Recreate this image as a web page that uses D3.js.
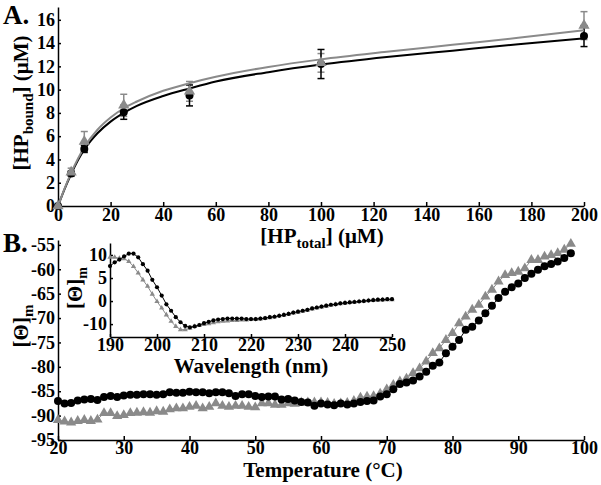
<!DOCTYPE html>
<html lang="en">
  <head>
    <meta charset="UTF-8" />
    <title>HP binding / thermal melt</title>
    <script src="https://d3js.org/d3.v7.min.js"></script>
    <style>
      body {
        margin: 0;
        background: #fff;
      }
      svg {
        display: block;
        font-family: "Liberation Serif", "Times New Roman", serif;
        font-weight: bold;
      }
      .axis text {
        font-family: "Liberation Serif", "Times New Roman", serif;
        font-weight: bold;
        font-size: 18px;
        fill: #000;
      }
      .axis path,
      .axis line {
        stroke: #000;
        stroke-width: 1.5px;
      }
      .title {
        font-size: 21px;
        fill: #000;
      }
      .panel {
        font-size: 27px;
        fill: #000;
      }
    </style>
  </head>
  <body>
    <svg id="chart" width="601" height="485"></svg>

    <script>
      // ---------------------------------------------------------------
      // DATA
      // ---------------------------------------------------------------

      // A) binding: [HP total] vs [HP bound], two samples with error bars
      const hpTotal = [0, 5, 10, 25, 50, 100, 200];
      const boundBlack = [0, 2.8, 4.9, 8.05, 9.5, 12.2, 14.6];
      const errBlack = [0, 0.2, 0.3, 0.6, 0.9, 1.25, 0.9];
      const boundGrey = [0, 2.9, 5.55, 8.65, 9.85, 12.3, 15.5];
      const errGrey = [0, 0.35, 0.85, 0.95, 0.85, 0.8, 1.2];

      // fitted curves
      const fitX = [0, 2.5, 5, 10, 15, 20, 25, 30, 40, 50, 60, 80, 100, 125, 150, 175, 200];
      const fitBlack = [0, 1.45, 2.75, 4.85, 6.25, 7.25, 8.0, 8.6, 9.45, 10.1, 10.7, 11.5, 12.15, 12.8, 13.35, 13.9, 14.4];
      const fitGrey = [0, 1.5, 2.85, 5.05, 6.55, 7.6, 8.4, 8.98, 9.9, 10.55, 11.1, 11.95, 12.6, 13.25, 13.85, 14.45, 15.1];

      const ticksAX = [0, 20, 40, 60, 80, 100, 120, 140, 160, 180, 200];
      const ticksAY = [0, 2, 4, 6, 8, 10, 12, 14, 16];

      // B) thermal melt, one reading per degree from 20 to 98 °C
      const temperature = d3.range(20, 99);
      const thetaBlack = [
        -87.0, -87.5, -87.4, -86.9, -86.7, -86.6, -86.8, -86.2, -86.0, -86.2,
        -85.9, -85.7, -85.7, -85.6, -85.6, -85.7, -85.6, -85.2, -85.3, -85.3,
        -85.1, -85.2, -85.2, -85.4, -85.2, -85.2, -85.4, -86.0, -85.6, -85.6,
        -86.0, -86.2, -86.1, -86.1, -86.7, -86.6, -86.9, -87.2, -87.3, -88.0,
        -87.5, -87.7, -87.9, -87.5, -87.7, -87.5, -87.2, -87.0, -86.9, -86.1,
        -85.6, -84.6, -83.5, -83.2, -82.8, -82.0, -81.0, -79.8, -79.1, -77.2,
        -75.9, -74.5, -72.4, -71.8, -70.5, -69.0, -67.5, -65.9, -64.6, -63.7,
        -62.9, -61.8, -60.9, -60.1, -59.4, -58.9, -58.4, -57.7, -56.7
      ];
      const thetaGrey = [
        -90.9, -91.2, -91.4, -91.1, -90.9, -91.1, -90.8, -89.5, -89.5, -90.1,
        -89.9, -89.5, -89.4, -89.3, -89.4, -89.1, -89.2, -88.7, -88.5, -88.5,
        -88.2, -88.0, -88.5, -88.2, -87.5, -88.0, -88.2, -88.0, -88.0, -88.2,
        -88.3, -87.5, -87.5, -87.8, -87.8, -87.5, -87.6, -87.3, -87.3, -87.3,
        -87.3, -87.4, -87.6, -87.5, -87.4, -87.0, -86.3, -86.1, -86.0, -85.5,
        -84.6, -83.7, -83.0, -82.4, -81.3, -80.3, -78.9, -77.2, -76.2, -74.5,
        -73.1, -71.1, -69.7, -68.3, -67.3, -65.6, -64.2, -62.5, -61.2, -60.8,
        -60.5, -59.8, -58.1, -58.1, -57.4, -57.1, -56.7, -56.0, -54.8
      ];
      const ticksBX = [20, 30, 40, 50, 60, 70, 80, 90, 100];
      const ticksBY = [-55, -60, -65, -70, -75, -80, -85, -90, -95];

      // B inset) CD spectrum, one reading per nm from 190 to 250 nm
      const wavelength = d3.range(190, 251);
      const cdBlack = [
        7.6, 8.4, 9.0, 9.7, 10.3, 10.3, 9.5, 8.0, 6.6, 4.6,
        3.0, 1.2, -0.7, -2.1, -3.5, -4.6, -5.4, -5.7, -5.5, -5.2,
        -4.8, -4.5, -4.2, -4.0, -3.9, -3.8, -3.8, -3.8, -3.8, -3.9,
        -3.9, -3.9, -3.8, -3.7, -3.5, -3.4, -3.2, -3.0, -2.8, -2.5,
        -2.3, -2.1, -1.9, -1.6, -1.4, -1.2, -1.0, -0.8, -0.7, -0.5,
        -0.4, -0.3, -0.2, -0.1, 0.0, 0.1, 0.2, 0.3, 0.3, 0.4, 0.4
      ];
      const cdGrey = [
        9.5, 9.5, 9.3, 9.2, 8.6, 7.5, 6.1, 4.6, 3.2, 1.5,
        -0.1, -1.5, -3.0, -4.4, -5.5, -6.2, -6.2, -5.9, -5.5, -5.3,
        -5.1, -4.9, -4.7, -4.5, -4.4, -4.3, -4.2, -4.2, -4.1, -4.1,
        -4.0, -4.0, -3.9, -3.8, -3.6, -3.4, -3.2, -3.0, -2.8, -2.6,
        -2.4, -2.2, -2.0, -1.7, -1.5, -1.3, -1.1, -0.9, -0.7, -0.6,
        -0.4, -0.3, -0.2, -0.1, 0.0, 0.1, 0.2, 0.2, 0.3, 0.3, 0.3
      ];
      const ticksInX = [190, 200, 210, 220, 230, 240, 250];
      const ticksInY = [10, 5, 0, -5];
      const ticksInYLabels = ["10", "5", "0", "-10"];

      const grey = "#8a8a8a";
      const svg = d3.select("#chart");

      // text with subscripts: parts = [[text, isSub], ...]
      function richText(sel, parts, subSize) {
        let down = false;
        parts.forEach(([t, sub]) => {
          const ts = sel.append("tspan").text(t);
          if (sub && !down) {
            ts.attr("dy", 5).attr("font-size", subSize);
            down = true;
          } else if (!sub && down) {
            ts.attr("dy", -5);
            down = false;
          } else if (sub) {
            ts.attr("font-size", subSize);
          }
        });
        return sel;
      }

      // plain hyphen for negative tick labels, as in the figure
      const plain = (d) => String(d);

      function errorBars(g, xs, ys, es, x, y, color) {
        const d = xs.map((v, i) => ({ x: v, y: ys[i], e: es[i] })).filter((d) => d.e > 0);
        const bars = g.append("g").attr("stroke", color).attr("stroke-width", 1.5);
        bars.selectAll(".v").data(d).join("line")
          .attr("x1", (d) => x(d.x)).attr("x2", (d) => x(d.x))
          .attr("y1", (d) => y(d.y - d.e)).attr("y2", (d) => y(d.y + d.e));
        bars.selectAll(".cap").data(d.flatMap((d) => [d.y - d.e, d.y + d.e].map((v) => ({ x: d.x, v }))))
          .join("line")
          .attr("x1", (d) => x(d.x) - 3.5).attr("x2", (d) => x(d.x) + 3.5)
          .attr("y1", (d) => y(d.v)).attr("y2", (d) => y(d.v));
      }

      function dots(g, xs, ys, x, y, r, color) {
        g.append("g").selectAll("circle").data(xs).join("circle")
          .attr("cx", (d) => x(d)).attr("cy", (d, i) => y(ys[i]))
          .attr("r", r).attr("fill", color);
      }

      function triangles(g, xs, ys, x, y, size, color) {
        g.append("g").selectAll("path").data(xs).join("path")
          .attr("d", d3.symbol(d3.symbolTriangle, size))
          .attr("transform", (d, i) => `translate(${x(d)},${y(ys[i])})`)
          .attr("fill", color);
      }

      function trace(g, xs, ys, x, y, color, width, curve) {
        g.append("path")
          .datum(xs.map((v, i) => [v, ys[i]]))
          .attr("fill", "none").attr("stroke", color).attr("stroke-width", width)
          .attr("d", d3.line().x((d) => x(d[0])).y((d) => y(d[1])).curve(curve || d3.curveLinear));
      }

      // ---------------------------------------------------------------
      // PANEL A
      // ---------------------------------------------------------------
      const xA = d3.scaleLinear().domain([0, 200]).range([58, 584]);
      const yA = d3.scaleLinear().domain([0, 17.1]).range([206, 7]);

      svg.append("g").attr("class", "axis").attr("transform", "translate(0,206)")
        .call(d3.axisBottom(xA).tickValues(ticksAX).tickSizeInner(-4).tickSizeOuter(0).tickPadding(2));
      svg.append("g").attr("class", "axis").attr("transform", "translate(58,0)")
        .call(d3.axisLeft(yA).tickValues(ticksAY).tickSizeInner(-3).tickSizeOuter(0).tickPadding(3));

      const gA = svg.append("g");
      errorBars(gA, hpTotal, boundGrey, errGrey, xA, yA, grey);
      errorBars(gA, hpTotal, boundBlack, errBlack, xA, yA, "#000");
      trace(gA, fitX, fitBlack, xA, yA, "#000", 2, d3.curveMonotoneX);
      trace(gA, fitX, fitGrey, xA, yA, grey, 2, d3.curveMonotoneX);
      dots(gA, hpTotal, boundBlack, xA, yA, 4, "#000");
      triangles(gA, hpTotal, boundGrey, xA, yA, 55, grey);

      svg.append("text").attr("class", "panel").attr("x", 3).attr("y", 24).text("A.");
      richText(
        svg.append("text").attr("class", "title").attr("x", 322).attr("y", 243).attr("text-anchor", "middle"),
        [["[HP", false], ["total", true], ["] (μM)", false]], 15
      );
      richText(
        svg.append("text").attr("class", "title").attr("text-anchor", "middle")
          .attr("transform", "translate(28,103) rotate(-90)"),
        [["[HP", false], ["bound", true], ["] (μM)", false]], 15
      );

      // ---------------------------------------------------------------
      // PANEL B (thermal melt)
      // ---------------------------------------------------------------
      const xB = d3.scaleLinear().domain([20, 100]).range([58, 584]);
      const yB = d3.scaleLinear().domain([-95, -54]).range([440, 240]);

      svg.append("g").attr("class", "axis").attr("transform", "translate(0,440)")
        .call(d3.axisBottom(xB).tickValues(ticksBX).tickSizeInner(-4).tickSizeOuter(0).tickPadding(1));
      svg.append("g").attr("class", "axis").attr("transform", "translate(58,0)")
        .call(d3.axisLeft(yB).tickValues(ticksBY).tickFormat(plain).tickSizeInner(-3).tickSizeOuter(0).tickPadding(3));

      const gB = svg.append("g");
      trace(gB, temperature, thetaGrey, xB, yB, grey, 1);
      triangles(gB, temperature, thetaGrey, xB, yB, 45, grey);
      trace(gB, temperature, thetaBlack, xB, yB, "#000", 1);
      dots(gB, temperature, thetaBlack, xB, yB, 4, "#000");

      svg.append("text").attr("class", "panel").attr("x", 3).attr("y", 252).text("B.");
      svg.append("text").attr("class", "title").attr("x", 323).attr("y", 477)
        .attr("text-anchor", "middle").text("Temperature (°C)");
      richText(
        svg.append("text").attr("class", "title").attr("text-anchor", "middle")
          .attr("transform", "translate(28,326) rotate(-90)"),
        [["[Θ]", false], ["m", true]], 15
      );

      // ---------------------------------------------------------------
      // INSET (CD spectrum)
      // ---------------------------------------------------------------
      const xIn = d3.scaleLinear().domain([190, 250]).range([110, 392]);
      const yIn = d3.scaleLinear().domain([-7.8, 12.6]).range([337, 243]);

      svg.append("g").attr("class", "axis").attr("transform", "translate(0,337)")
        .call(d3.axisBottom(xIn).tickValues(ticksInX).tickSizeInner(-3).tickSizeOuter(0).tickPadding(1));
      svg.append("g").attr("class", "axis").attr("transform", "translate(110,0)")
        .call(d3.axisLeft(yIn).tickValues(ticksInY).tickFormat((d, i) => ticksInYLabels[i])
          .tickSizeInner(-3).tickSizeOuter(0).tickPadding(3));

      const gIn = svg.append("g");
      trace(gIn, wavelength, cdGrey, xIn, yIn, grey, 1);
      triangles(gIn, wavelength, cdGrey, xIn, yIn, 12, grey);
      trace(gIn, wavelength, cdBlack, xIn, yIn, "#000", 1);
      dots(gIn, wavelength, cdBlack, xIn, yIn, 2.1, "#000");

      svg.append("text").attr("class", "title").attr("x", 251).attr("y", 373)
        .attr("font-size", 20).attr("text-anchor", "middle").text("Wavelength (nm)");
      richText(
        svg.append("text").attr("class", "title").attr("text-anchor", "middle")
          .attr("font-size", 19)
          .attr("transform", "translate(82,288) rotate(-90)"),
        [["[Θ]", false], ["m", true]], 14
      );
    </script>
  </body>
</html>
